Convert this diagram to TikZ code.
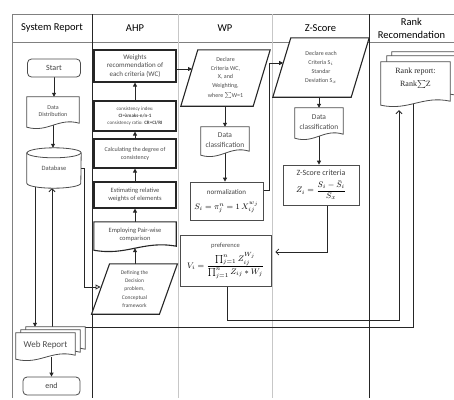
\documentclass[tikz,border=0pt]{standalone}
\usepackage{fontspec}
\setmainfont{Carlito}
\newfontfamily\rankfont{Liberation Serif}
\usepackage{amsmath}
\usetikzlibrary{calc,arrows.meta,backgrounds}
\pgfdeclarelayer{bg}
\pgfdeclarelayer{mid}
\pgfsetlayers{bg,mid,main}

\tikzset{
  lane/.style={draw=black!50, line width=0.8pt},
  lanedark/.style={draw=black!85, line width=0.8pt},
  lanelight/.style={draw=black!22, line width=0.8pt},
  lanehead/.style={font=\fontsize{10.5}{13}\selectfont, align=center},
  ahpbox/.style={draw=black!85, line width=1.1pt, fill=white, minimum width=82pt, align=center, inner sep=1pt, text=black!70},
  box/.style={draw=black!70, line width=0.7pt, fill=white, align=center, inner sep=1pt},
  term/.style={draw=black!70, line width=0.8pt, rounded corners=4pt, fill=white, minimum width=53pt, minimum height=18pt, font=\fontsize{8}{9}\selectfont, text=black!75},
  shapebody/.style={align=center, inner sep=1pt, text=black!70},
  outline/.style={draw=black!70, line width=0.8pt, fill=white},
  outlinebold/.style={draw=black!85, line width=1.1pt, fill=white},
  conn/.style={draw=black!85, line width=0.8pt, -{Triangle[length=4pt,width=4pt]}},
  barb/.style={draw=black!85, line width=0.8pt, -{Straight Barb[length=3pt,width=6pt]}},
  connopen/.style={draw=black!85, line width=0.8pt, -{Triangle[open,length=5pt,width=5pt]}}
}

% document outline (wavy bottom) round a node, shifted by #3,#4 (pt)
\newcommand\docline[4][outline]{%
  \begin{pgfonlayer}{mid}
  \begin{scope}[transform canvas={shift={(#3pt,#4pt)}}]
  \draw[#1] ([yshift=-2pt]#2.south west) -- (#2.north west) -- (#2.north east) -- ([yshift=2pt]#2.south east)
    .. controls ($(#2.south west)!0.6!(#2.south east)+(0pt,8pt)$) and ($(#2.south west)!0.4!(#2.south east)+(0pt,-8pt)$) .. ([yshift=-2pt]#2.south west) -- cycle;
  \end{scope}
  \end{pgfonlayer}}
% parallelogram round a node
\newcommand\slantline[3][outline]{%
  \begin{pgfonlayer}{mid}
  \draw[#1] ([xshift=-#3pt]#2.south west) -- ([xshift=#3pt]#2.north west) -- ([xshift=#3pt]#2.north east) -- ([xshift=-#3pt]#2.south east) -- cycle;
  \end{pgfonlayer}}
% database cylinder
\newcommand\dbline[1]{%
  \begin{pgfonlayer}{mid}
  \draw[outline] ([yshift=-5pt]#1.north west) -- ([yshift=5pt]#1.south west)
    arc[start angle=180, end angle=360, x radius=27pt, y radius=5pt]
    -- ([yshift=-5pt]#1.north east)
    arc[start angle=0, end angle=180, x radius=27pt, y radius=5pt] -- cycle;
  \draw[outline, fill=none] ([yshift=-5pt]#1.north west) arc[start angle=180, end angle=360, x radius=27pt, y radius=5pt];
  \end{pgfonlayer}}

\begin{document}
\begin{tikzpicture}[x=1pt,y=-1pt]
\useasboundingbox (0,0) rectangle (454,399);

% swimlanes
\begin{pgfonlayer}{bg}
\draw[lane] (454,14) -- (12,14) -- (12,398);
\draw[lane] (12,42) -- (454,42);
\draw[lanedark] (92,14) -- (92,398);
\draw[lanelight] (178,14) -- (178,398);
\draw[lanelight] (272,14) -- (272,398);
\draw[lanedark] (369,14) -- (369,398);
\end{pgfonlayer}
\node[lanehead] (hsys) at (52,28) {System Report};
\node[lanehead] (hahp) at (135,28) {AHP};
\node[lanehead] (hwp) at (225,28) {WP};
\node[lanehead] (hz) at (320.5,28) {Z-Score};
\node[lanehead] (hrank) at (411.5,28.5) {Rank\\Recomendation};

% System Report
\node[term] (start) at (54,68) {Start};
\node[shapebody, minimum width=52pt, minimum height=28pt, font=\fontsize{6}{7.5}\selectfont] (datadist) at (53,111) {Data\\Distribution};
\docline{datadist}{0}{0}
\node[shapebody, minimum width=54pt, minimum height=40pt, font=\fontsize{6.5}{8}\selectfont] (database) at (54,168) {Database};
\dbline{database}
\node[shapebody, minimum width=59pt, minimum height=24pt, font=\fontsize{9}{10}\selectfont] (webrep) at (45.5,345) {Web Report};
\docline{webrep}{10}{6}
\docline{webrep}{5}{3}
\docline{webrep}{0}{0}
\node[term, minimum width=57pt] (endnode) at (51.5,386) {end};

% AHP
\node[ahpbox, minimum height=32pt, font=\fontsize{7}{8.5}\selectfont] (weights) at (135,66) {Weights\\recommendation of\\each criteria (WC)};
\node[ahpbox, minimum height=30pt, font=\fontsize{5}{7}\selectfont] (consist) at (135,116) {consistency index:\\\textbf{CI=λmaks-n/n-1}\\consistency ratio: \textbf{CR=CI/RI}};
\node[ahpbox, minimum height=29pt, font=\fontsize{6}{8}\selectfont] (calc) at (135,153.5) {Calculating the degree of\\consistency};
\node[ahpbox, minimum height=26pt, font=\fontsize{6.5}{8.5}\selectfont] (estim) at (135,195) {Estimating relative\\weights of elements};
\node[shapebody, minimum width=82pt, minimum height=26pt, font=\fontsize{6.5}{8.5}\selectfont] (employ) at (135,235) {Employing Pair-wise\\comparison};
\docline[outlinebold]{employ}{0}{0}
\node[shapebody, minimum width=67.5pt, minimum height=50pt, font=\fontsize{5.5}{8.3}\selectfont] (define) at (134.5,289) {Defining the\\Decision\\problem,\\Conceptual\\framework};
\slantline[outlinebold]{define}{9}

% WP
\node[shapebody, minimum width=72pt, minimum height=56pt, font=\fontsize{6}{8.5}\selectfont] (declwp) at (225.5,78) {Declare\\Criteria WC,\\X, and\\Weighting,\\[1.5pt]where $\sum$W=1};
\slantline[outlinebold]{declwp}{8.5}
\node[shapebody, minimum width=48pt, minimum height=26pt, font=\fontsize{7.5}{9.5}\selectfont] (dataclswp) at (225,140) {Data\\classification};
\docline{dataclswp}{0}{0}
\node[box, minimum width=73pt, minimum height=38pt, font=\fontsize{8}{10}\selectfont] (normal) at (226.5,201) {{\fontsize{7}{8}\selectfont\color{black!75}normalization}\\[5pt]$S_i=\pi_j^n=1\,X_{ij}^{w_j}$};
\node[box, minimum width=91pt, minimum height=51pt, font=\fontsize{8}{10}\selectfont] (pref) at (225.5,260.5) {{\fontsize{6.5}{8}\selectfont\color{black!70}preference}\\[3pt]$V_i=\dfrac{\prod_{j=1}^{n}Z_{ij}^{W_j}}{\prod_{j=1}^{n}Z_{ij}*W_j}$};

% Z-Score
\node[shapebody, minimum width=78pt, minimum height=59pt, font=\fontsize{6}{8.8}\selectfont] (declz) at (321,67.5) {Declare each\\Criteria S$_i$\\Standar\\Deviation S$_x$};
\slantline[outlinebold]{declz}{9}
\node[shapebody, minimum width=48pt, minimum height=28pt, font=\fontsize{7.5}{9.5}\selectfont] (dataclsz) at (319,122) {Data\\classification};
\docline{dataclsz}{0}{0}
\node[box, minimum width=76pt, minimum height=40pt, font=\fontsize{8}{10}\selectfont] (zcrit) at (321,185) {{\color{black!75}Z-Score criteria}\\[4pt]$Z_i=\dfrac{S_i-\bar{S}_i}{S_x}$};

% Rank Recomendation
\node[shapebody, minimum width=69pt, minimum height=41pt, text depth=10pt, text=black!85, font=\rankfont\fontsize{8}{10}\selectfont] (rankrep) at (415.5,82.5) {Rank report:\\[3pt]Rank$\sum$Z};
\docline{rankrep}{11}{10}
\docline{rankrep}{6}{6}
\docline{rankrep}{0}{0}

\coordinate (loopa) at (399,320);
\coordinate (loopb) at (52,327);

% connectors
\begin{pgfonlayer}{bg}
\draw[conn] (start.south) -- (start.south |- datadist.north);
\draw[conn] (datadist.south) -- (datadist.south |- database.north);
\draw[conn] ([xshift=-19pt]database.center) -- ([xshift=-10.5pt,yshift=6pt]webrep.north);
\draw[conn] (webrep.south -| endnode.north) -- (endnode.north);
\draw[connopen] (database.east) -- ++(3,0) |- ([yshift=2pt]define.west);
\draw[conn] (employ.south |- define.north) -- (employ.south);
\draw[conn] (employ.north) -- (estim.south);
\draw[conn] (estim.north) -- (calc.south);
\draw[conn] (calc.north) -- (consist.south);
\draw[conn] (consist.north) -- (weights.south);
\draw[conn] ([yshift=-3pt]weights.east) -- ([xshift=2.7pt,yshift=9pt]declwp.west);
\draw[conn] (dataclswp.north |- declwp.south) -- (dataclswp.north);
\draw[conn] (dataclswp.south) -- (dataclswp.south |- normal.north);
\draw[conn] ([yshift=11pt]normal.east) -- ++(6,0) |- ([xshift=1.4pt,yshift=4.5pt]declz.west);
\draw[conn] (dataclsz.north |- declz.south) -- (dataclsz.north);
\draw[conn] (dataclsz.south) -- (dataclsz.south |- zcrit.north);
\draw[barb] ([xshift=6pt]zcrit.south) |- ([xshift=4pt,yshift=8.5pt]pref.east);
\draw[barb] ([xshift=1.5pt]pref.south) |- (loopa) -- ([xshift=-16.5pt,yshift=-7pt]rankrep.south);
\draw[barb] ([xshift=-2.5pt]rankrep.center) |- (loopb) -- ([xshift=-2pt]database.south);
\end{pgfonlayer}
\end{tikzpicture}
\end{document}
